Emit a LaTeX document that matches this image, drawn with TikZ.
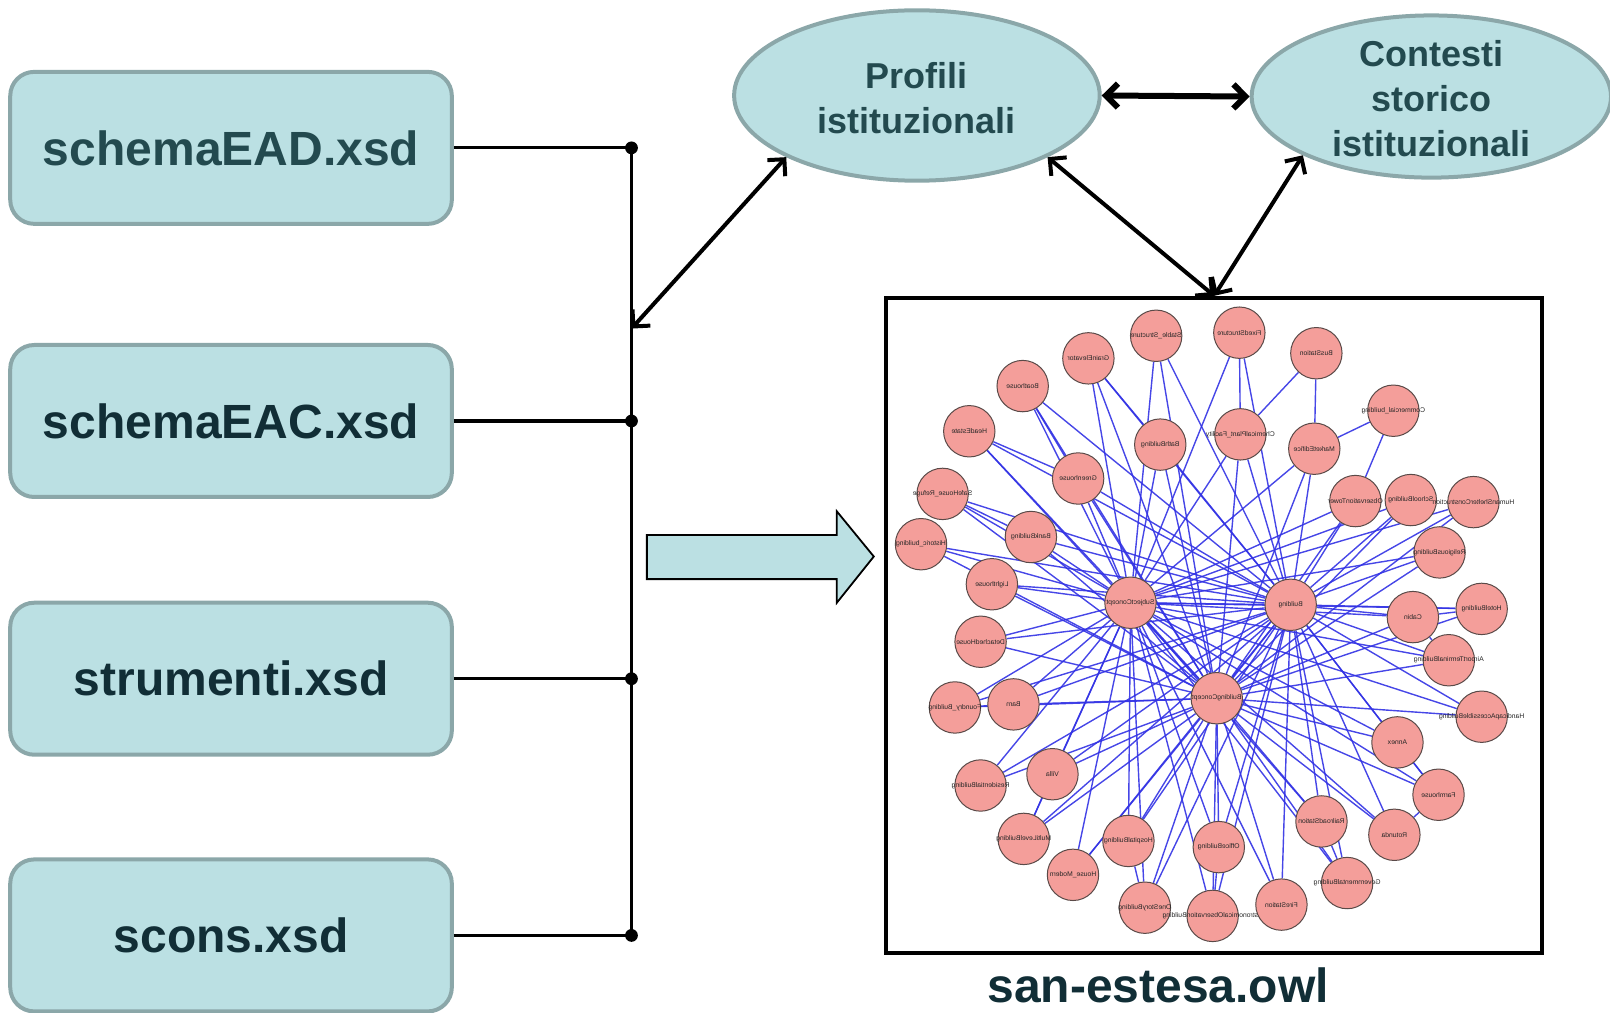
\documentclass[tikz,border=0pt]{standalone}
\usepackage{fontspec}
\setmainfont{Liberation Sans}
\usetikzlibrary{arrows.meta,shapes.geometric,backgrounds}

\definecolor{boxfill}{RGB}{187,224,227}
\definecolor{boxline}{RGB}{139,167,169}
\definecolor{tealtext}{RGB}{35,74,79}
\definecolor{darktext}{RGB}{17,46,54}
\definecolor{nodefill}{RGB}{244,158,154}
\definecolor{nodeline}{RGB}{90,74,72}
\definecolor{edgeblue}{RGB}{50,50,228}

% mirrored tiny label that does not widen its circle
\newcommand{\glab}[1]{\makebox[0pt]{\scalebox{-1}[1]{\fontsize{3.4}{4}\selectfont\color{black!85}#1}}}

\tikzset{
  filebox/.style={draw=boxline, fill=boxfill, line width=2pt, rounded corners=12pt,
    minimum width=220.8pt, minimum height=76pt, inner sep=0pt,
    font=\fontsize{24}{28}\selectfont\bfseries},
  topic/.style={ellipse, draw=boxline, fill=boxfill, line width=2pt, inner sep=0pt},
  topictext/.style={align=center, text=tealtext, inner sep=0pt,
    font=\fontsize{18}{22.5}\selectfont\bfseries},
  busline/.style={line width=1.6pt, black},
  dblarrow/.style={line width=2pt,
    {Straight Barb[length=6pt,width=12pt]}-{Straight Barb[length=6pt,width=12pt]}},
  gnode/.style={circle, fill=nodefill, draw=nodeline, line width=0.5pt,
    minimum size=25.7pt, inner sep=0pt},
  gedge/.style={draw=edgeblue, line width=0.7pt, opacity=0.9},
}

\begin{document}
\begin{tikzpicture}[x=0.5134pt, y=-0.5134pt]
\useasboundingbox (0,0) rectangle (1568,986);

% ---- schema files on the left ----
\node[filebox, text=tealtext] (ead)  at (225,144) {schemaEAD.xsd};
\node[filebox, text=darktext] (eac)  at (225,410) {schemaEAC.xsd};
\node[filebox, text=darktext] (strm) at (225,661) {strumenti.xsd};
\node[filebox, text=darktext] (scon) at (225,911) {scons.xsd};

% ---- collecting bus ----
\coordinate (j1) at (615,144);
\coordinate (j2) at (615,410);
\coordinate (j3) at (615,661);
\coordinate (j4) at (615,911);
\coordinate (busmid) at (615,320);
\draw[busline] (j1) -- (j4);
\draw[busline] (ead.east) -- (j1);
\draw[busline] (eac.east) -- (j2);
\draw[busline] (strm.east) -- (j3);
\draw[busline] (scon.east) -- (j4);
\foreach \j in {j1,j2,j3,j4} \fill (\j) circle (3.2pt);

% ---- profiles and contexts ----
\node[topic, minimum width=182.8pt, minimum height=85.2pt] (prof) at (893,93) {};
\node[topictext] (proftxt) at ([yshift=-1.5pt]prof.center) {Profili\\istituzionali};
\node[topic, minimum width=179.7pt, minimum height=81.1pt] (ctx) at (1394,94) {};
\node[topictext] (ctxtxt) at ([yshift=-1pt]ctx.center) {Contesti\\storico\\istituzionali};

% ---- ontology graph frame ----
\node[draw, line width=2pt, minimum width=328.1pt, minimum height=327.5pt, inner sep=0pt]
  (owl) at (1182.5,609) {};
\node[text=darktext, font=\fontsize{24}{28}\selectfont\bfseries] (owlname) at (1128,960) {san-estesa.owl};

% ---- links ----
\draw[dblarrow, line width=3pt] (prof.east) -- (ctx.west);
\draw[dblarrow] (busmid) -- (prof.south west);
\draw[dblarrow] (prof.south east) -- (owl.north);
\draw[dblarrow] (ctx.south west) -- (owl.north);

% ---- conversion arrow ----
\draw[fill=boxfill, line width=0.9pt, line join=miter]
  (630,521) -- (815,521) -- (815,498) -- (851,542) -- (815,587) -- (815,564) -- (630,564) -- cycle;

% ---- ontology classes ----
\node[gnode] (ss) at (1126,327) {\glab{Stable\_Structure}};
\node[gnode] (fs) at (1207,324) {\glab{FixedStructure}};
\node[gnode] (ge) at (1060,349) {\glab{GrainElevator}};
\node[gnode] (bs) at (1282,344) {\glab{BusStation}};
\node[gnode] (bh) at (996,376) {\glab{Boathouse}};
\node[gnode] (cb) at (1357,400) {\glab{Commercial\_building}};
\node[gnode] (he) at (944,420) {\glab{HeadEstate}};
\node[gnode] (bb) at (1130,433) {\glab{BathBuilding}};
\node[gnode] (cp) at (1208,423) {\glab{ChemicalPlant\_Facility}};
\node[gnode] (me) at (1280,437) {\glab{MarketEdifice}};
\node[gnode] (gh) at (1050,466) {\glab{Greenhouse}};
\node[gnode] (sh) at (918,481) {\glab{SafeHouse\_Refuge}};
\node[gnode] (ot) at (1320,488) {\glab{ObservationTower}};
\node[gnode] (sb) at (1374,487) {\glab{SchoolBuilding}};
\node[gnode] (hs) at (1435,489) {\glab{HumanShelterConstruction}};
\node[gnode] (hb) at (897,530) {\glab{Historic\_building}};
\node[gnode] (bk) at (1004,523) {\glab{BankBuilding}};
\node[gnode] (rb) at (1402,538) {\glab{ReligiousBuilding}};
\node[gnode] (lh) at (966,569) {\glab{Lighthouse}};
\node[gnode] (sc) at (1101,587) {\glab{SubjectConcept}};
\node[gnode] (bu) at (1257,589) {\glab{Building}};
\node[gnode] (ca) at (1376,601) {\glab{Cabin}};
\node[gnode] (ho) at (1443,593) {\glab{HotelBuilding}};
\node[gnode] (dh) at (955,625) {\glab{DetachedHouse}};
\node[gnode] (at) at (1411,643) {\glab{AirportTerminalBuilding}};
\node[gnode] (fb) at (930,689) {\glab{Foundry\_Building}};
\node[gnode] (ba) at (987,686) {\glab{Barn}};
\node[gnode] (bc) at (1185,680) {\glab{BuildingConcept}};
\node[gnode] (ha) at (1443,698) {\glab{HandicapAccessibleBuilding}};
\node[gnode] (an) at (1361,723) {\glab{Annex}};
\node[gnode] (rs) at (955,765) {\glab{ResidentialBuilding}};
\node[gnode] (vi) at (1025,754) {\glab{Villa}};
\node[gnode] (fh) at (1401,774) {\glab{Farmhouse}};
\node[gnode] (ml) at (997,817) {\glab{MultiLevelBuilding}};
\node[gnode] (hp) at (1099,819) {\glab{HospitalBuilding}};
\node[gnode] (ob) at (1187,825) {\glab{OfficeBuilding}};
\node[gnode] (rr) at (1287,800) {\glab{RailroadStation}};
\node[gnode] (ro) at (1358,813) {\glab{Rotunda}};
\node[gnode] (hm) at (1045,852) {\glab{House\_Modern}};
\node[gnode] (gv) at (1312,860) {\glab{GovernmentalBuilding}};
\node[gnode] (os) at (1115,884) {\glab{OneStoryBuilding}};
\node[gnode] (ao) at (1181,892) {\glab{AstronomicalObservationBuilding}};
\node[gnode] (fi) at (1248,881) {\glab{FireStation}};

% ---- subclass links, kept behind the class circles ----
\begin{scope}[on background layer]
  \foreach \n in {ss,ge,bh,he,bb,cp,me,gh,sh,ot,sb,hs,hb,bk,rb,lh,ca,ho,dh,at,
                  fb,ba,ha,an,rs,vi,fh,ml,hp,ob,rr,ro,hm,gv,os,ao,fi}
    \foreach \h in {sc,bu,bc}
      \draw[gedge] (\n) -- (\h);
  \foreach \a/\b in {sc/bu,sc/bc,bu/bc,fs/cp,fs/sc,fs/bu,bs/cp,bs/me,cb/me,cb/ot,
                     ge/bb,bh/gh,he/gh,sh/bk,fb/ba,vi/ml,ob/ao,rr/gv,an/fh,ca/ho,
                     hp/os,ro/fh,ca/at}
    \draw[gedge] (\a) -- (\b);
\end{scope}
\end{tikzpicture}
\end{document}
